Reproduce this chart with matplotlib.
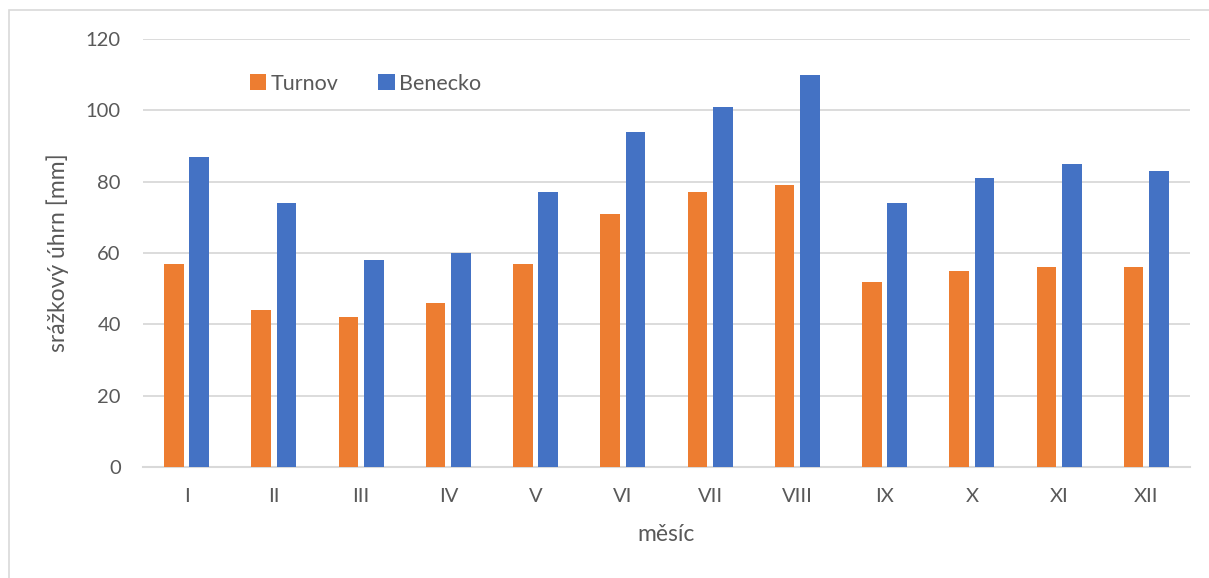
import numpy as np
import matplotlib.pyplot as plt
from matplotlib.patches import Rectangle

# Monthly precipitation totals
months = ['I', 'II', 'III', 'IV', 'V', 'VI', 'VII', 'VIII', 'IX', 'X', 'XI', 'XII']
turnov = [57, 44, 42, 46, 57, 71, 77, 79, 52, 55, 56, 56]
benecko = [87, 74, 58, 60, 77, 94, 101, 110, 74, 81, 85, 83]

plt.rcParams['font.family'] = ['Lato', 'DejaVu Sans']
txt = '#595959'

fig = plt.figure(figsize=(12.09, 5.78), dpi=100)
ax = fig.add_axes([143 / 1209, 1 - 467 / 578, (1190 - 143) / 1209, (467 - 39) / 578])

# light frame around the whole chart (right and bottom edges run off the canvas)
fig.patches.append(Rectangle((9 / 1209, -0.05), 1.05, 1.05 - 10 / 578, transform=fig.transFigure,
                             fill=False, edgecolor='#d9d9d9', linewidth=1.2))

x = np.arange(len(months))
w = 0.225
ax.bar(x - 0.146, turnov, width=w, color='#ed7d31', label='Turnov', zorder=3)
ax.bar(x + 0.144, benecko, width=w, color='#4472c4', label='Benecko', zorder=3)

ax.set_xlim(-0.5, len(months) - 0.5)
ax.set_ylim(0, 120)
ax.set_yticks(range(0, 121, 20))
ax.set_xticks(x)
ax.set_xticklabels(months)
ax.yaxis.grid(True, color='#d9d9d9', linewidth=1.3, zorder=0)
ax.set_axisbelow(True)
for s in ['top', 'right', 'left']:
    ax.spines[s].set_visible(False)
ax.spines['bottom'].set_color('#d9d9d9')
ax.spines['bottom'].set_linewidth(1.5)
ax.tick_params(axis='both', length=0, labelsize=14.5, colors=txt)
ax.tick_params(axis='y', pad=16)
ax.tick_params(axis='x', pad=15)

ax.set_ylabel('srážkový úhrn [mm]', fontsize=16.5, color=txt, labelpad=12)
ax.set_xlabel('měsíc', fontsize=16.5, color=txt, labelpad=14)

ax.legend(loc='upper left', bbox_to_anchor=(0.0835, 0.964), ncol=2, frameon=False,
          fontsize=15.5, labelcolor=txt, handlelength=0.75, handleheight=0.75,
          handletextpad=0.22, columnspacing=1.85)

fig.savefig('out.png', dpi=100)
